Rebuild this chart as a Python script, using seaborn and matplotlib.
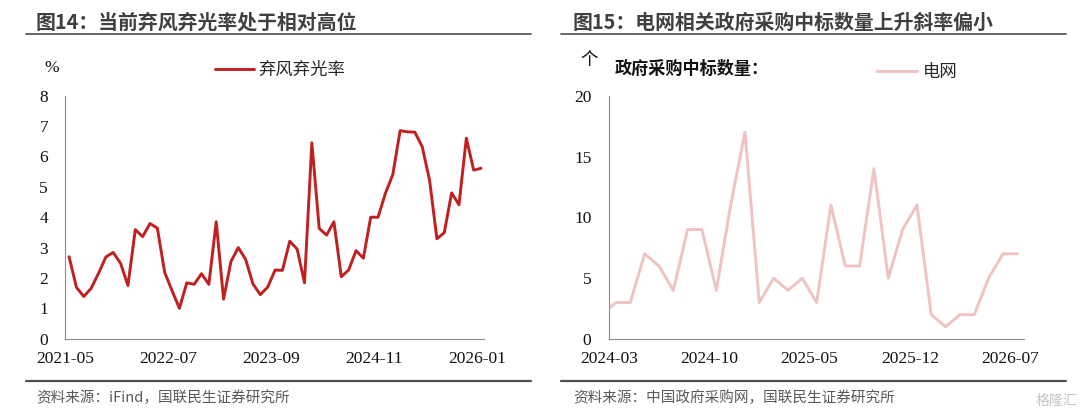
import numpy as np
import pandas as pd
import matplotlib
matplotlib.use('Agg')
import matplotlib.pyplot as plt
from matplotlib.lines import Line2D
import seaborn as sns

# left chart: curtailment rate of wind & solar (%), monthly
curtail_months = [str(p) for p in pd.period_range('2021-05', '2026-01', freq='M')]
curtail_rate = [2.70, 1.69, 1.39, 1.66, 2.15, 2.69, 2.84, 2.48, 1.75, 3.59,
                3.36, 3.79, 3.64, 2.18, 1.58, 1.00, 1.84, 1.79, 2.14, 1.79,
                3.85, 1.30, 2.54, 3.00, 2.61, 1.80, 1.45, 1.70, 2.26, 2.25,
                3.21, 2.95, 1.84, 6.45, 3.63, 3.41, 3.85, 2.04, 2.26, 2.90,
                2.65, 4.00, 4.00, 4.79, 5.40, 6.85, 6.81, 6.80, 6.32, 5.22,
                3.29, 3.49, 4.80, 4.41, 6.60, 5.55, 5.61]
curtail_ticks = ['2021-05', '2022-07', '2023-09', '2024-11', '2026-01']

# right chart: grid-related government procurement awards (count), monthly
grid_months = [str(p) for p in pd.period_range('2024-02', '2026-07', freq='M')]
grid_awards = [2, 3, 3, 7, 6, 4, 9, 9, 4, 11,
               17, 3, 5, 4, 5, 3, 11, 6, 6, 14,
               5, 9, 11, 2, 1, 2, 2, 5, 7, 7]
grid_ticks = ['2024-03', '2024-10', '2025-05', '2025-12', '2026-07']

sns.set_style('white')
plt.rcParams['font.family'] = ['Noto Sans CJK SC', 'DejaVu Sans']
serif = ['Liberation Serif', 'DejaVu Serif']
cjk = ['Noto Sans CJK SC', 'DejaVu Sans']

W, H = 1080, 418
fig = plt.figure(figsize=(10.8, 4.18), dpi=100)


def px_axes(x0, x1, y_top, y_bot):
    return fig.add_axes([x0 / W, 1 - y_bot / H, (x1 - x0) / W, (y_bot - y_top) / H])


def style_axes(ax, months, ticks, ymax, ystep, xlim):
    for s in ['top', 'right']:
        ax.spines[s].set_visible(False)
    for s in ['left', 'bottom']:
        ax.spines[s].set_color('#8c8c8c')
        ax.spines[s].set_linewidth(0.8)
    ax.set_ylim(0, ymax)
    ax.set_yticks(np.arange(0, ymax + 0.01, ystep))
    ax.set_yticklabels([f'{v:g}' for v in np.arange(0, ymax + 0.01, ystep)])
    ax.set_xlim(*xlim)
    # ticks sit on the left boundary of the labelled month
    pos = [months.index(t) - 0.5 for t in ticks]
    ax.set_xticks(pos)
    ax.set_xticklabels(ticks)
    ax.tick_params(axis='both', direction='out', length=5, width=0.8, color='#8c8c8c',
                   labelsize=12.5, labelcolor='#111111')
    ax.tick_params(axis='y', pad=7.5)
    ax.tick_params(axis='x', pad=3.5)
    for lab in ax.get_xticklabels() + ax.get_yticklabels():
        lab.set_family(serif)
    ax.set_xlabel('')
    ax.set_ylabel('')


# ---- left panel
df_l = pd.DataFrame({'idx': np.arange(len(curtail_months)), 'rate': curtail_rate})
ax1 = px_axes(65.4, 484, 95.7, 338.7)
sns.lineplot(data=df_l, x='idx', y='rate', ax=ax1, color='#C0201F', linewidth=2.1,
             label='弃风弃光率')
style_axes(ax1, curtail_months, curtail_ticks, 8, 1, (-0.5, 56.4))
ax1.legend(loc='center left', bbox_to_anchor=(215 / W, 1 - 70 / H), bbox_transform=fig.transFigure,
           frameon=False, borderpad=0, borderaxespad=0, handlelength=2.25, handletextpad=0.25,
           prop={'family': cjk, 'size': 12.5})
fig.text(44 / W, 1 - 68 / H, '%', family=serif, fontsize=12.5, ha='left', va='center', color='#111111')

# ---- right panel
df_r = pd.DataFrame({'idx': np.arange(len(grid_months)), 'awards': grid_awards})
ax2 = px_axes(608.8, 1024, 95.7, 339)
sns.lineplot(data=df_r, x='idx', y='awards', ax=ax2, color='#F0C2C2', linewidth=2.1,
             label='电网')
style_axes(ax2, grid_months, grid_ticks, 20, 5, (0.5, 29.47))
ax2.legend(loc='center left', bbox_to_anchor=(877 / W, 1 - 72 / H), bbox_transform=fig.transFigure,
           frameon=False, borderpad=0, borderaxespad=0, handlelength=2.3, handletextpad=0.35,
           prop={'family': cjk, 'size': 12.5})
fig.text(580 / W, 1 - 60 / H, '个', fontsize=12.5, ha='left', va='center', color='#111111')
fig.text(615 / W, 1 - 69 / H, '政府采购中标数量：', fontsize=12.3, fontweight='bold',
         ha='left', va='center', color='#111111')

# ---- titles, rules and sources
fig.text(36 / W, 1 - 22 / H, '图14：当前弃风弃光率处于相对高位', fontsize=14.3, fontweight='bold',
         ha='left', va='center', color='#404040')
fig.text(573 / W, 1 - 22 / H, '图15：电网相关政府采购中标数量上升斜率偏小', fontsize=14.3,
         fontweight='bold', ha='left', va='center', color='#404040')
for x0, x1 in [(26, 531), (561, 1066)]:
    fig.add_artist(Line2D([x0 / W, x1 / W], [1 - 33.5 / H] * 2, color='#5a5a5a', linewidth=1.3))
    fig.add_artist(Line2D([x0 / W, x1 / W], [1 - 381 / H] * 2, color='#505050', linewidth=1.6))

fig.text(36 / W, 1 - 398 / H, '资料来源：iFind，国联民生证券研究所', fontsize=10.5,
         ha='left', va='center', color='#595959')
fig.text(573 / W, 1 - 398 / H, '资料来源：中国政府采购网，国联民生证券研究所', fontsize=10.5,
         ha='left', va='center', color='#595959')
fig.text(1077 / W, 1 - 401 / H, '格隆汇', fontsize=10, ha='right', va='center', color='#c4c4c4')

fig.savefig('out.png', dpi=100)
